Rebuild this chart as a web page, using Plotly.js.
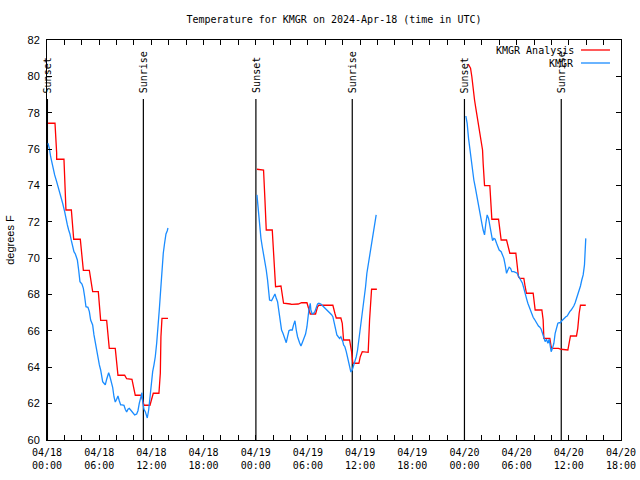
<!DOCTYPE html>
<html><head><meta charset="utf-8">
<script src="https://cdn.plot.ly/plotly-3.0.1.min.js"></script>
<style>html,body{margin:0;padding:0;background:#fff}#chart{width:640px;height:480px}</style>
</head><body><div id="chart"></div>
<script>
// hours since 2024-04-18 00:00 UTC; null = gap between nights
const analysisHours = [0.12,0.92,1.11,1.11,1.95,2.11,2.18,2.80,3.07,3.83,3.98,4.18,4.87,5.10,5.25,5.90,6.09,6.17,6.86,7.09,7.16,7.85,8.08,8.16,8.93,9.16,9.77,10.0,10.15,10.84,11.0,11.15,11.84,11.99,12.22,12.87,13.03,13.10,13.22,13.91,
  null,
  24.14,24.90,25.06,25.13,25.21,25.90,26.05,26.21,26.28,26.90,27.13,27.20,27.97,28.12,28.89,29.27,29.89,30.04,30.27,30.88,31.11,31.26,32.87,33.10,33.26,33.79,33.95,34.10,34.79,35.02,35.10,35.17,35.86,36.02,36.25,36.93,37.09,37.24,37.32,37.93,
  null,
  48.43,48.70,48.85,49.00,49.16,49.31,49.46,49.62,49.77,49.92,50.08,50.15,50.23,50.31,50.92,51.07,51.15,51.92,51.99,52.15,52.22,52.84,52.99,53.22,53.91,54.06,54.21,54.37,54.83,54.98,55.13,55.90,56.05,56.13,56.90,57.05,57.13,57.82,57.97,58.05,58.81,59.12,59.89,60.04,60.19,60.88,61.03,61.19,61.34,61.95];
const analysisTemps = [77.42,77.42,75.80,75.44,75.44,74.03,72.65,72.65,71.04,71.04,70.18,69.33,69.33,68.62,68.16,68.16,67.06,66.58,66.58,65.32,65.04,65.04,64.03,63.56,63.56,63.37,63.34,62.90,62.46,62.46,62.24,61.91,61.91,62.20,62.57,62.57,63.67,65.68,66.69,66.69,
  null,
  74.89,74.85,73.20,72.10,71.55,71.55,70.08,68.98,68.43,68.47,67.74,67.52,67.48,67.46,67.48,67.55,67.55,67.33,66.93,66.93,67.33,67.41,67.41,66.97,66.71,66.71,66.42,65.50,65.50,64.86,64.40,64.22,64.22,64.58,64.86,64.82,66.60,67.88,68.29,68.29,
  null,
  80.67,80.45,79.98,79.25,78.70,78.24,77.78,77.33,76.96,76.50,75.95,75.22,74.67,73.99,73.99,73.02,72.14,72.14,71.83,71.09,71.00,71.00,70.73,70.27,70.27,69.53,68.98,68.89,68.89,68.43,68.07,68.07,67.61,67.15,67.15,66.60,65.59,65.59,65.13,65.04,65.04,64.99,64.95,65.32,65.72,65.72,66.14,66.97,67.41,67.41];

const obsHours = [0.11,0.27,0.42,0.65,0.88,1.11,1.34,1.57,1.80,2.03,2.18,2.34,2.49,2.64,2.80,2.95,3.10,3.26,3.49,3.64,3.79,4.02,4.18,4.33,4.48,4.71,4.87,5.02,5.25,5.40,5.56,5.71,5.86,6.02,6.17,6.40,6.55,6.70,6.86,7.09,7.24,7.39,7.55,7.70,7.85,8.01,8.16,8.31,8.47,8.62,8.85,9.00,9.16,9.31,9.46,9.62,9.85,10.08,10.31,10.46,10.61,10.77,10.92,11.00,11.15,11.30,11.46,11.53,11.69,11.84,11.99,12.15,12.30,12.45,12.61,12.76,12.91,13.07,13.22,13.37,13.52,13.68,13.83,13.91,
  null,
  24.14,24.29,24.44,24.60,24.75,24.90,25.06,25.21,25.36,25.44,25.59,25.82,25.98,26.13,26.21,26.36,26.51,26.67,26.82,26.97,27.13,27.28,27.51,27.66,27.82,27.97,28.20,28.35,28.51,28.66,28.81,29.04,29.20,29.35,29.58,29.73,29.89,29.96,30.11,30.27,30.34,30.50,30.65,30.80,30.96,31.11,31.26,31.49,31.80,32.11,32.41,32.72,32.87,33.03,33.18,33.33,33.49,33.64,33.79,33.95,34.02,34.10,34.25,34.41,34.56,34.71,34.87,34.94,35.10,35.25,35.40,35.56,35.71,35.86,36.02,36.17,36.32,36.48,36.63,36.78,36.93,37.09,37.24,37.39,37.55,37.70,37.85,
  null,
  48.16,48.31,48.47,48.62,48.77,48.93,49.08,49.23,49.39,49.54,49.69,49.85,50.00,50.15,50.31,50.46,50.61,50.77,50.92,51.07,51.23,51.38,51.53,51.69,51.84,51.99,52.22,52.38,52.53,52.68,52.84,52.99,53.14,53.30,53.45,53.68,53.91,54.06,54.21,54.37,54.52,54.67,54.83,54.98,55.13,55.29,55.44,55.59,55.75,55.90,56.05,56.21,56.36,56.51,56.67,56.82,56.97,57.13,57.28,57.43,57.59,57.74,57.89,57.97,58.12,58.28,58.43,58.58,58.74,58.89,59.04,59.20,59.35,59.50,59.66,59.81,59.96,60.11,60.27,60.42,60.57,60.73,60.88,61.03,61.19,61.34,61.49,61.65,61.80,61.88,61.95];
const obsTemps = [76.32,76.04,75.58,75.03,74.58,74.21,73.84,73.42,73.02,72.56,72.10,71.83,71.55,71.33,70.96,70.67,70.36,70.23,69.90,69.35,68.71,68.58,68.34,67.88,67.33,67.30,67.06,66.60,66.33,65.78,65.32,64.95,64.40,64.13,63.85,63.21,63.12,63.03,63.34,63.70,63.48,63.21,62.90,62.38,62.09,62.24,62.42,62.16,61.93,61.93,61.91,61.69,61.54,61.69,61.74,61.65,61.50,61.38,61.43,61.61,62.02,62.38,62.60,62.11,61.69,61.56,61.32,61.21,61.65,62.38,63.12,63.76,64.13,64.58,65.32,66.05,67.15,68.25,69.63,70.27,70.82,71.33,71.51,71.66,
  null,
  73.48,72.65,71.73,71.09,70.63,70.27,69.90,69.35,68.80,68.43,67.70,67.66,67.79,67.98,68.03,67.79,67.61,67.06,66.42,66.05,65.87,65.68,65.35,65.68,66.01,66.05,66.05,66.33,66.56,66.05,65.68,65.35,65.17,65.35,65.59,65.83,66.23,66.60,67.15,67.52,67.15,66.93,66.97,67.06,67.24,67.48,67.52,67.48,67.33,67.19,67.04,66.89,66.78,66.42,65.96,65.78,65.68,65.59,65.68,65.54,65.41,65.23,65.13,64.86,64.55,64.31,63.89,63.74,63.85,64.07,64.22,64.58,64.95,65.50,65.96,66.60,67.24,67.92,68.43,69.17,69.63,70.08,70.60,71.09,71.64,72.10,72.38,
  null,
  77.82,77.42,76.59,75.95,75.40,74.85,74.30,73.93,73.48,73.02,72.56,72.28,71.92,71.55,71.28,71.92,72.38,72.19,71.83,71.46,70.96,71.09,71.04,70.82,70.63,70.45,70.36,70.18,69.99,69.63,69.17,69.35,69.50,69.44,69.26,69.26,69.20,69.17,69.02,68.89,68.76,68.62,68.34,67.98,67.79,67.52,67.33,67.06,66.88,66.75,66.64,66.51,66.33,66.27,66.20,66.09,65.87,65.68,65.41,65.54,65.32,65.54,65.13,64.86,65.04,65.32,65.87,66.23,66.42,66.45,66.45,66.56,66.64,66.75,66.78,66.82,66.97,67.06,67.15,67.24,67.37,67.55,67.79,67.92,68.16,68.47,68.80,69.08,69.63,70.45,71.09];

const eventHours = [0.05, 11.08, 24.02, 35.10, 48.0, 59.13];
const eventLabels = ['Sunset','Sunrise','Sunset','Sunrise','Sunset','Sunrise'];

const xTickHours = [0,6,12,18,24,30,36,42,48,54,60,66];
const xTickLabels = ['04/18<br>00:00','04/18<br>06:00','04/18<br>12:00','04/18<br>18:00',
  '04/19<br>00:00','04/19<br>06:00','04/19<br>12:00','04/19<br>18:00',
  '04/20<br>00:00','04/20<br>06:00','04/20<br>12:00','04/20<br>18:00'];

const seriesNames = ['KMGR Analysis','KMGR'];
const seriesColors = ['#ff0000','#1a8cff'];

const mono = 'DejaVu Sans Mono, monospace';
const sans = 'Liberation Sans, Arial, sans-serif';

const traces = [
  {x: analysisHours, y: analysisTemps, name: seriesNames[0], mode: 'lines', connectgaps: false,
   line: {color: seriesColors[0], width: 1.3}},
  {x: obsHours, y: obsTemps, name: seriesNames[1], mode: 'lines', connectgaps: false,
   line: {color: seriesColors[1], width: 1.3}}
];

const shapes = [];
const annotations = [];
eventHours.forEach((h, i) => {
  shapes.push({type: 'line', xref: 'x', yref: 'paper', x0: h, x1: h, y0: 0, y1: 0.8525,
    line: {color: '#000', width: 1.2}, layer: 'below'});
  annotations.push({text: eventLabels[i], xref: 'x', yref: 'paper', x: h, y: 0.865,
    xanchor: 'center', yanchor: 'bottom', textangle: -90, showarrow: false,
    font: {family: mono, size: 10, color: '#000'}, borderpad: 0});
});

// legend drawn gnuplot-style: text right-aligned, sample line on its right
const legendRows = [0.975, 0.9425];
seriesNames.forEach((nm, i) => {
  annotations.push({text: nm, xref: 'paper', yref: 'paper', x: 0.919, y: legendRows[i],
    xanchor: 'right', yanchor: 'middle', showarrow: false, borderpad: 0,
    font: {family: mono, size: 10, color: '#000'}});
  shapes.push({type: 'line', xref: 'paper', yref: 'paper', x0: 0.9303, x1: 0.9808,
    y0: legendRows[i], y1: legendRows[i], line: {color: seriesColors[i], width: 1.3}});
});

const layout = {
  width: 640, height: 480,
  margin: {l: 47, r: 19, t: 40, b: 40},
  paper_bgcolor: '#fff', plot_bgcolor: '#fff',
  showlegend: false,
  title: {text: 'Temperature for KMGR on 2024-Apr-18 (time in UTC)', x: 0.5, xref: 'paper',
    y: 0.96, yanchor: 'middle', font: {family: mono, size: 10, color: '#000'}},
  xaxis: {range: [0, 66], tickmode: 'array', tickvals: xTickHours, ticktext: xTickLabels,
    ticks: 'inside', ticklen: 5, tickcolor: '#000', showline: true, linecolor: '#000', linewidth: 1,
    mirror: 'ticks', showgrid: false, zeroline: false, ticklabelstandoff: 3,
    minor: {dtick: 2, tick0: 0, ticks: 'inside', ticklen: 5, tickcolor: '#000', showgrid: false},
    tickfont: {family: mono, size: 10, color: '#000'}},
  yaxis: {range: [60, 82], dtick: 2, tick0: 60, ticks: 'inside', ticklen: 5, tickcolor: '#000',
    showline: true, linecolor: '#000', linewidth: 1, mirror: 'ticks', showgrid: false, zeroline: false,
    tickfont: {family: sans, size: 11, color: '#000'}, ticklabelstandoff: 4,
    title: {text: 'degrees F', font: {family: sans, size: 11, color: '#000'}, standoff: 10}},
  shapes: shapes,
  annotations: annotations
};

Plotly.newPlot('chart', traces, layout, {staticPlot: true, displayModeBar: false});
</script>
</body></html>
